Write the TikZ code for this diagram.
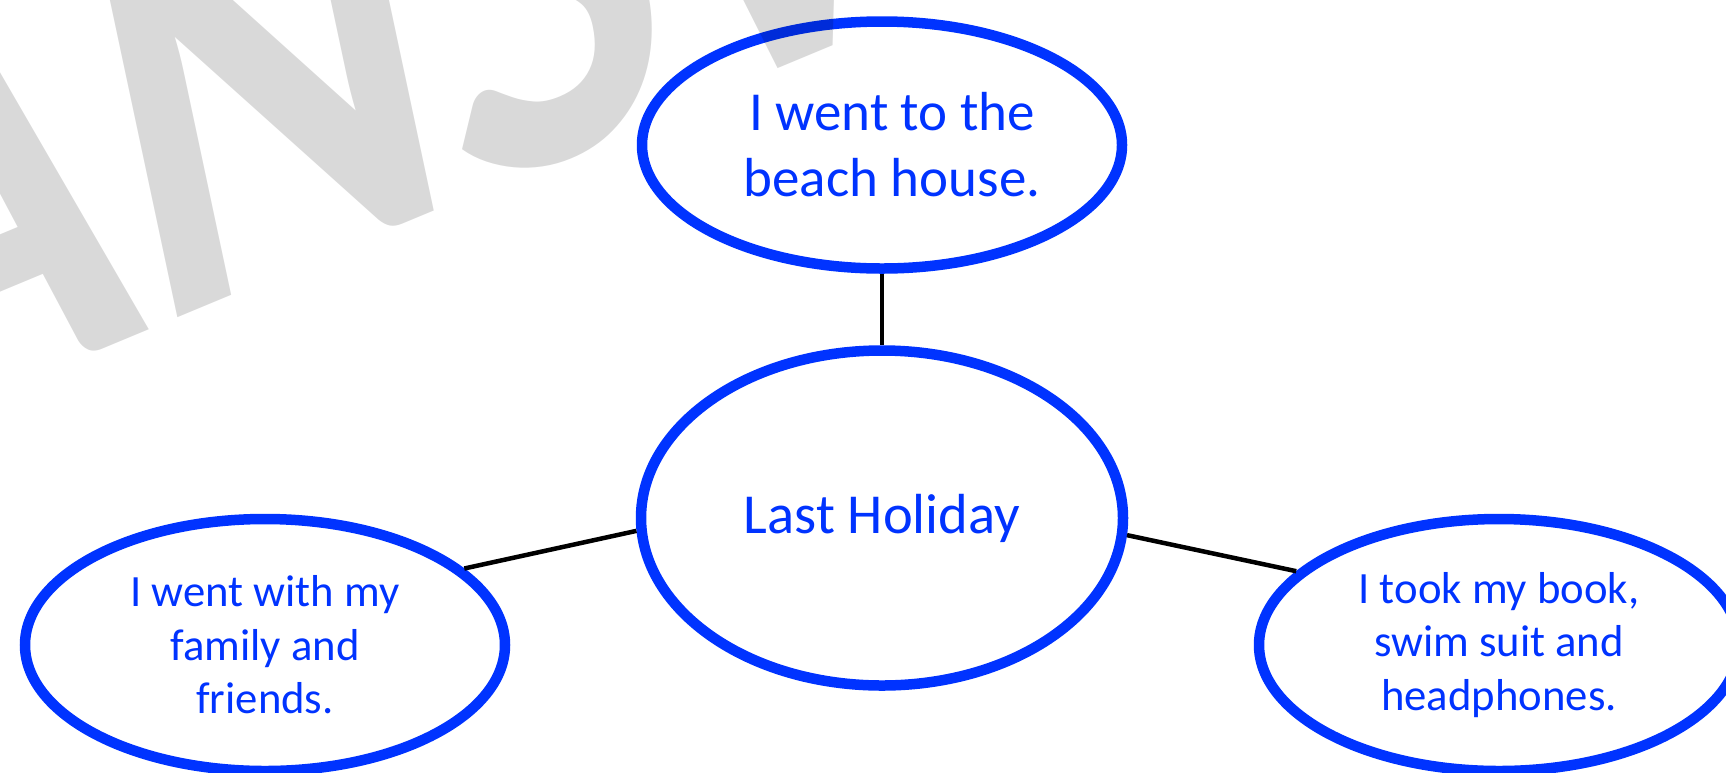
\documentclass[tikz,border=0pt]{standalone}
\usepackage{fontspec}
\setmainfont{Carlito}
\usetikzlibrary{shapes.geometric}
\definecolor{sablue}{RGB}{0,51,255}
\definecolor{wmgrey}{RGB}{217,217,217}
\begin{document}
\begin{tikzpicture}[x=1pt,y=-1pt,
  bubble/.style={ellipse, draw=sablue, line width=10.5pt, fill=white, text=sablue, inner sep=0pt, align=center},
  bigtext/.style={font=\fontsize{55}{66}\selectfont},
  hubtext/.style={font=\fontsize{56.5}{68}\selectfont},
  smalltext/.style={font=\fontsize{44.7}{53.6}\selectfont},
  link/.style={draw=black, line width=4.5pt}]
\useasboundingbox (0,0) rectangle (1726,772);
\clip (0,0) rectangle (1726,772);
\node[bubble, bigtext, minimum width=480pt, minimum height=247pt] (top) at (882,145) {\hspace*{20pt}I went to the\\\hspace*{20pt}beach house.};
\node[bubble, hubtext, minimum width=482pt, minimum height=335pt] (hub) at (882,518) {Last Holiday};
\node[bubble, smalltext, minimum width=480pt, minimum height=252pt] (left) at (265,645) {I went with my\\family and\\friends.};
\node[bubble, smalltext, minimum width=480pt, minimum height=252pt] (right) at (1499,645) {I took my book,\\swim suit and\\headphones.};
\draw[link] (top.south) -- (hub.north);
\draw[link] (left.21) -- (hub.183);
\draw[link] (hub.-4) -- (right.160);
\begin{scope}[blend mode=multiply]
\node[anchor=base west, inner sep=0pt, text=wmgrey, font=\fontsize{100}{100}\selectfont\bfseries, cm={4.753,1.978,-1.248,5.868,(0,0)}] (wm) at (-139,450) {ANSW};
\end{scope}
\end{tikzpicture}
\end{document}
